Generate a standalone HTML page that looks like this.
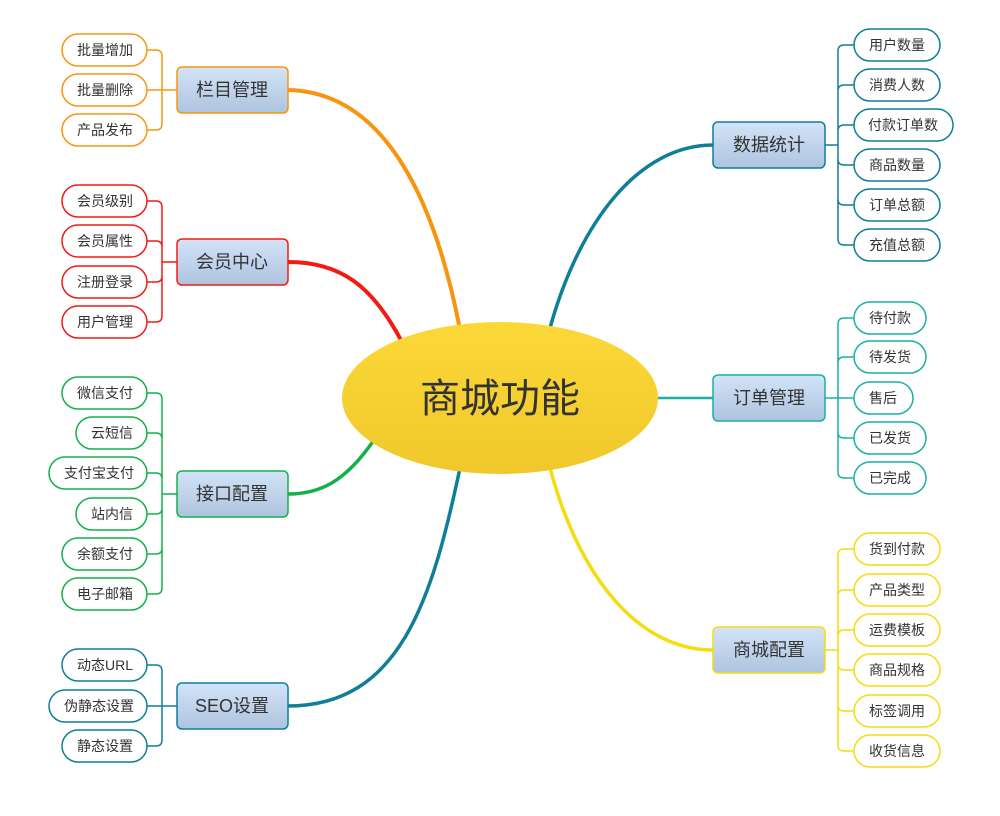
<!DOCTYPE html>
<html><head><meta charset="utf-8"><style>
html,body{margin:0;padding:0;background:#fff;width:1000px;height:816px;overflow:hidden}
text{font-family:"Liberation Sans","Noto Sans CJK SC",sans-serif;fill:#333}
</style></head><body>
<svg width="1000" height="816" viewBox="0 0 1000 816" xmlns="http://www.w3.org/2000/svg">
<defs>
<linearGradient id="bx" x1="0" y1="0" x2="0" y2="1"><stop offset="0" stop-color="#d3e4f8"/><stop offset="1" stop-color="#aec3df"/></linearGradient>
<linearGradient id="el" x1="0" y1="0" x2="0" y2="1"><stop offset="0" stop-color="#fbd837"/><stop offset="1" stop-color="#f0c82c"/></linearGradient>
</defs>
<g fill="none" stroke-linecap="round">
<path d="M460,330 C435,200 385,92 288,90" stroke="#f7950f" stroke-width="4"/>
<path d="M402,342 C372,285 340,262 288,262" stroke="#f21b14" stroke-width="4"/>
<path d="M374,440 C345,482 320,494 288,494" stroke="#14b04a" stroke-width="3.5"/>
<path d="M460,468 C432,600 400,706 288,706" stroke="#0f7f98" stroke-width="3.5"/>
<path d="M550,328 C580,220 640,145 713,145" stroke="#0f7f98" stroke-width="3.5"/>
<path d="M655,398 H713" stroke="#19b0a5" stroke-width="2.5"/>
<path d="M550,468 C580,580 640,650 713,650" stroke="#f5dc0f" stroke-width="3.5"/>
</g>
<ellipse cx="500" cy="398" rx="158" ry="76" fill="url(#el)"/>
<text x="500" y="412" font-size="40" text-anchor="middle" fill="#2b2b2b">商城功能</text>

<!-- brackets left -->
<g fill="none" stroke-width="1.5">
<path d="M147,50 H156 Q162,50 162,56 V124 Q162,130 156,130 H147 M147,90 H177" stroke="#f7950f"/>
<path d="M147,201 H156 Q162,201 162,207 V316 Q162,322 156,322 H147 M147,241 H156 Q162,241 162,247 M147,282 H156 Q162,282 162,276 M162,262 H177" stroke="#f21b14"/>
<path d="M147,393 H156 Q162,393 162,399 V588 Q162,594 156,594 H147 M147,433 H156 Q162,433 162,439 M147,473 H156 Q162,473 162,479 M147,514 H156 Q162,514 162,508 M147,554 H156 Q162,554 162,548 M162,494 H177" stroke="#14b04a"/>
<path d="M147,665 H156 Q162,665 162,671 V740 Q162,746 156,746 H147 M147,706 H177" stroke="#0f7f98"/>
<path d="M854,45 H844 Q838,45 838,51 V239 Q838,245 844,245 H854 M854,85 H844 Q838,85 838,91 M854,125 H844 Q838,125 838,131 M854,165 H844 Q838,165 838,159 M854,205 H844 Q838,205 838,199 M825,145 H838" stroke="#0f7f98"/>
<path d="M854,318 H844 Q838,318 838,324 V472 Q838,478 844,478 H854 M854,357 H844 Q838,357 838,363 M854,438 H844 Q838,438 838,432 M825,398 H854" stroke="#19b0a5"/>
<path d="M854,549 H844 Q838,549 838,555 V745 Q838,751 844,751 H854 M854,590 H844 Q838,590 838,596 M854,630 H844 Q838,630 838,636 M854,670 H844 Q838,670 838,664 M854,711 H844 Q838,711 838,705 M825,650 H838" stroke="#f5dc0f"/>
</g>

<!-- branch boxes -->
<g stroke-width="1.5" fill="url(#bx)">
<rect x="177" y="67" width="111" height="46" rx="5" stroke="#f7950f"/>
<rect x="177" y="239" width="111" height="46" rx="5" stroke="#f21b14"/>
<rect x="177" y="471" width="111" height="46" rx="5" stroke="#14b04a"/>
<rect x="177" y="683" width="111" height="46" rx="5" stroke="#0f7f98"/>
<rect x="713" y="122" width="112" height="46" rx="5" stroke="#0f7f98"/>
<rect x="713" y="375" width="112" height="46" rx="5" stroke="#19b0a5"/>
<rect x="713" y="627" width="112" height="46" rx="5" stroke="#f5dc0f"/>
</g>
<g font-size="18" text-anchor="middle">
<text x="232" y="96">栏目管理</text>
<text x="232" y="268">会员中心</text>
<text x="232" y="500">接口配置</text>
<text x="232" y="712">SEO设置</text>
<text x="769" y="151">数据统计</text>
<text x="769" y="404">订单管理</text>
<text x="769" y="656">商城配置</text>
</g>

<!-- leaves -->
<g fill="#fff" stroke-width="1.5">
<g stroke="#f7950f">
<rect x="62" y="34" width="85" height="32" rx="16"/>
<rect x="62" y="74" width="85" height="32" rx="16"/>
<rect x="62" y="114" width="85" height="32" rx="16"/>
</g>
<g stroke="#f21b14">
<rect x="62" y="185" width="85" height="32" rx="16"/>
<rect x="62" y="225" width="85" height="32" rx="16"/>
<rect x="62" y="266" width="85" height="32" rx="16"/>
<rect x="62" y="306" width="85" height="32" rx="16"/>
</g>
<g stroke="#14b04a">
<rect x="62" y="377" width="85" height="32" rx="16"/>
<rect x="76" y="417" width="71" height="32" rx="16"/>
<rect x="49" y="457" width="98" height="32" rx="16"/>
<rect x="76" y="498" width="71" height="32" rx="16"/>
<rect x="62" y="538" width="85" height="32" rx="16"/>
<rect x="62" y="578" width="85" height="32" rx="16"/>
</g>
<g stroke="#0f7f98">
<rect x="62" y="649" width="85" height="32" rx="16"/>
<rect x="49" y="690" width="98" height="32" rx="16"/>
<rect x="62" y="730" width="85" height="32" rx="16"/>
<rect x="854" y="29" width="86" height="32" rx="16"/>
<rect x="854" y="69" width="86" height="32" rx="16"/>
<rect x="854" y="109" width="99" height="32" rx="16"/>
<rect x="854" y="149" width="86" height="32" rx="16"/>
<rect x="854" y="189" width="86" height="32" rx="16"/>
<rect x="854" y="229" width="86" height="32" rx="16"/>
</g>
<g stroke="#19b0a5">
<rect x="854" y="302" width="72" height="32" rx="16"/>
<rect x="854" y="341" width="72" height="32" rx="16"/>
<rect x="854" y="382" width="59" height="32" rx="16"/>
<rect x="854" y="422" width="72" height="32" rx="16"/>
<rect x="854" y="462" width="72" height="32" rx="16"/>
</g>
<g stroke="#f5dc0f">
<rect x="854" y="533" width="86" height="32" rx="16"/>
<rect x="854" y="574" width="86" height="32" rx="16"/>
<rect x="854" y="614" width="86" height="32" rx="16"/>
<rect x="854" y="654" width="86" height="32" rx="16"/>
<rect x="854" y="695" width="86" height="32" rx="16"/>
<rect x="854" y="735" width="86" height="32" rx="16"/>
</g>
</g>
<g font-size="14" text-anchor="middle">
<text x="105" y="55">批量增加</text>
<text x="105" y="95">批量删除</text>
<text x="105" y="135">产品发布</text>
<text x="105" y="206">会员级别</text>
<text x="105" y="246">会员属性</text>
<text x="105" y="287">注册登录</text>
<text x="105" y="327">用户管理</text>
<text x="105" y="398">微信支付</text>
<text x="112" y="438">云短信</text>
<text x="99" y="478">支付宝支付</text>
<text x="112" y="519">站内信</text>
<text x="105" y="559">余额支付</text>
<text x="105" y="599">电子邮箱</text>
<text x="105" y="670">动态URL</text>
<text x="99" y="711">伪静态设置</text>
<text x="105" y="751">静态设置</text>
<text x="897" y="50">用户数量</text>
<text x="897" y="90">消费人数</text>
<text x="903" y="130">付款订单数</text>
<text x="897" y="170">商品数量</text>
<text x="897" y="210">订单总额</text>
<text x="897" y="250">充值总额</text>
<text x="890" y="323">待付款</text>
<text x="890" y="362">待发货</text>
<text x="883" y="403">售后</text>
<text x="890" y="443">已发货</text>
<text x="890" y="483">已完成</text>
<text x="897" y="554">货到付款</text>
<text x="897" y="595">产品类型</text>
<text x="897" y="635">运费模板</text>
<text x="897" y="675">商品规格</text>
<text x="897" y="716">标签调用</text>
<text x="897" y="756">收货信息</text>
</g>
</svg>
</body></html>
